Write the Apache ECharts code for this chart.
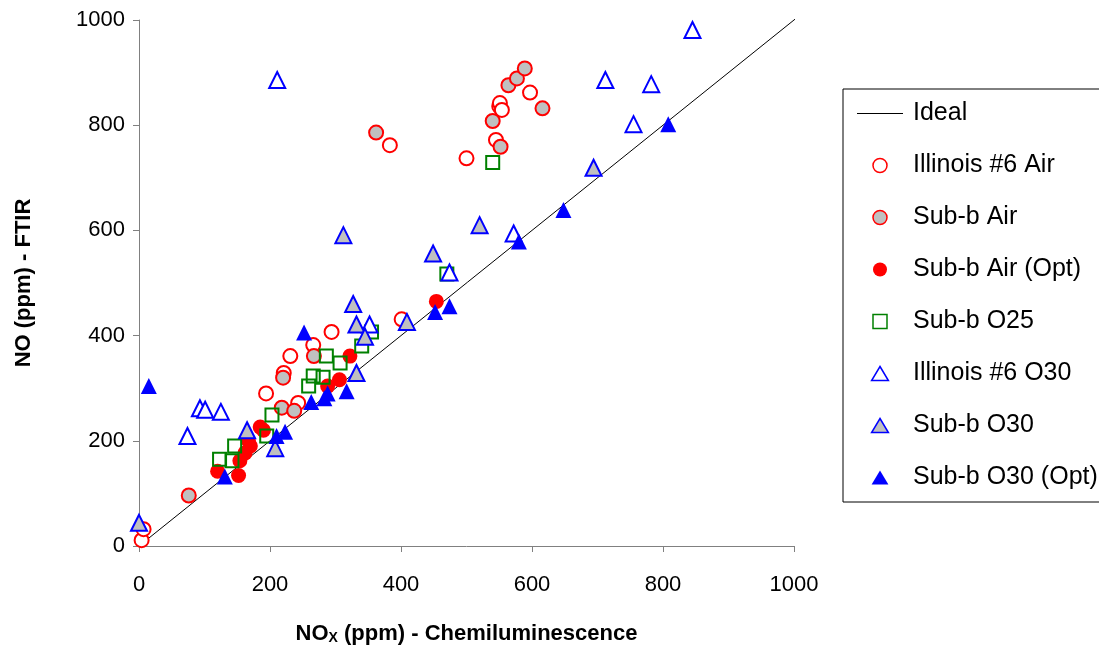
<!DOCTYPE html>
<html><head><meta charset="utf-8">
<script src="https://cdn.jsdelivr.net/npm/echarts@6/dist/echarts.min.js"></script>
<style>html,body{margin:0;padding:0;background:#fff}#c{width:1099px;height:650px}</style>
</head><body><div id="c"></div>
<script>
var xTicks = [0, 200, 400, 600, 800, 1000];
var yTicks = [0, 200, 400, 600, 800, 1000];
var ideal = [[0, 0], [1015, 1015]];
var illinoisAir = [[4,11],[7,32],[194,290],[221,329],[231,361],[243,272],[266,382],[294,407],[401,431],[383,762],[500,737],[545,772],[550,836],[551,842],[554,829],[597,862]];
var subbAir = [[76,96],[218,263],[237,257],[220,320],[267,361],[362,786],[540,808],[552,759],[564,876],[577,889],[589,908],[616,832]];
var subbAirOpt = [[120,142],[152,134],[154,162],[162,177],[167,200],[170,190],[185,226],[190,220],[288,304],[306,316],[322,361],[454,465]];
var subbO25 = [[123,165],[142,162],[146,190],[195,209],[203,249],[259,304],[266,323],[281,321],[286,361],[307,348],[340,380],[355,407],[470,517],[540,729]];
var illinoisO30 = [[211,886],[74,209],[93,262],[101,259],[125,255],[352,421],[474,520],[572,594],[712,886],[782,878],[755,802],[845,981]];
var subbO30 = [[0,44],[165,220],[208,186],[312,591],[327,460],[332,421],[345,398],[332,329],[409,426],[449,556],[520,610],[694,719]];
var subbO30Opt = [[15,304],[131,132],[210,209],[223,217],[252,406],[263,274],[283,281],[288,290],[317,294],[452,445],[474,456],[580,579],[648,639],[808,802]];

var chart = echarts.init(document.getElementById('c'), null, {renderer: 'canvas'});
var font = 'Arial, "Liberation Sans", sans-serif';
var squareIcon = 'path://M0,0L10,0L10,10L0,10Z';
var triIcon = 'path://M6,0L12,10L0,10Z';
function sc(name, data, symbol, size, fill, stroke, bw) {
  return {
    name: name, type: 'scatter', data: data, symbol: symbol, symbolSize: size,
    itemStyle: {color: fill, borderColor: stroke, borderWidth: bw, opacity: 1},
    emphasis: {disabled: true}, animation: false, z: 3
  };
}
function leg(name, icon, fill, stroke, bw) {
  return {name: name, icon: icon, itemStyle: {color: fill, borderColor: stroke, borderWidth: bw}};
}
var option = {
  animation: false,
  backgroundColor: '#fff',
  grid: {left: 139, right: 305, top: 20, bottom: 104, containLabel: false},
  xAxis: {
    type: 'value', min: 0, max: 1000, interval: 200,
    name: 'NO{sub|X} (ppm) - Chemiluminescence',
    nameLocation: 'middle', nameGap: 77,
    nameTextStyle: {fontFamily: font, fontSize: 22, fontWeight: 'bold', color: '#000',
      rich: {sub: {fontFamily: font, fontSize: 14, fontWeight: 'bold', color: '#000', verticalAlign: 'bottom', padding: [8, 0, 0, 0]}}},
    axisLine: {show: true, lineStyle: {color: '#808080', width: 1}},
    axisTick: {show: true, inside: false, length: 6, lineStyle: {color: '#808080'}},
    axisLabel: {fontFamily: font, fontSize: 22, color: '#000', margin: 28, formatter: function (v) { return String(v); }},
    splitLine: {show: false}
  },
  yAxis: {
    type: 'value', min: 0, max: 1000, interval: 200,
    name: 'NO (ppm) - FTIR',
    nameLocation: 'middle', nameGap: 104, nameRotate: 90,
    nameTextStyle: {fontFamily: font, fontSize: 22, fontWeight: 'bold', color: '#000'},
    axisLine: {show: true, lineStyle: {color: '#808080', width: 1}},
    axisTick: {show: true, inside: false, length: 6, lineStyle: {color: '#808080'}},
    axisLabel: {fontFamily: font, fontSize: 22, color: '#000', margin: 14, formatter: function (v) { return String(v); }},
    splitLine: {show: false}
  },
  legend: {
    orient: 'vertical', left: 843, top: 89,
    padding: [12, 40, 12, 14],
    itemWidth: 46, itemHeight: 14, itemGap: 27,
    symbolKeepAspect: true,
    borderColor: '#000', borderWidth: 1, backgroundColor: '#fff',
    textStyle: {fontFamily: font, fontSize: 25, color: '#000', padding: [0, 0, 0, 5]},
    data: [
      {name: 'Ideal', icon: 'path://M0,0L46,0L46,1.2L0,1.2Z', itemStyle: {color: '#000', borderWidth: 0}},
      leg('Illinois #6 Air', 'circle', '#fff', '#ff0000', 1.5),
      leg('Sub-b Air', 'circle', '#c0c0c0', '#ff0000', 1.5),
      leg('Sub-b Air (Opt)', 'circle', '#ff0000', '#ff0000', 0),
      leg('Sub-b O25', squareIcon, '#fff', '#008000', 1.5),
      leg('Illinois #6 O30', triIcon, '#fff', '#0000ff', 1.5),
      leg('Sub-b O30', triIcon, '#c0c0c0', '#0000ff', 1.5),
      leg('Sub-b O30 (Opt)', triIcon, '#0000ff', '#0000ff', 0)
    ]
  },
  series: [
    {name: 'Ideal', type: 'line', data: ideal, symbol: 'none', clip: false,
     lineStyle: {color: '#000', width: 1}, itemStyle: {color: '#000'}, z: 2, emphasis: {disabled: true}},
    sc('Illinois #6 Air', illinoisAir, 'circle', 14, '#fff', '#ff0000', 2),
    sc('Sub-b Air', subbAir, 'circle', 14, '#c0c0c0', '#ff0000', 2),
    sc('Sub-b Air (Opt)', subbAirOpt, 'circle', 15, '#ff0000', '#ff0000', 0),
    sc('Sub-b O25', subbO25, 'rect', 13, 'rgba(255,255,255,0)', '#008000', 2),
    sc('Illinois #6 O30', illinoisO30, 'triangle', 16, '#fff', '#0000ff', 2),
    sc('Sub-b O30', subbO30, 'triangle', 16, '#c0c0c0', '#0000ff', 2),
    sc('Sub-b O30 (Opt)', subbO30Opt, 'triangle', 16, '#0000ff', '#0000ff', 0)
  ]
};
chart.setOption(option);
</script></body></html>
